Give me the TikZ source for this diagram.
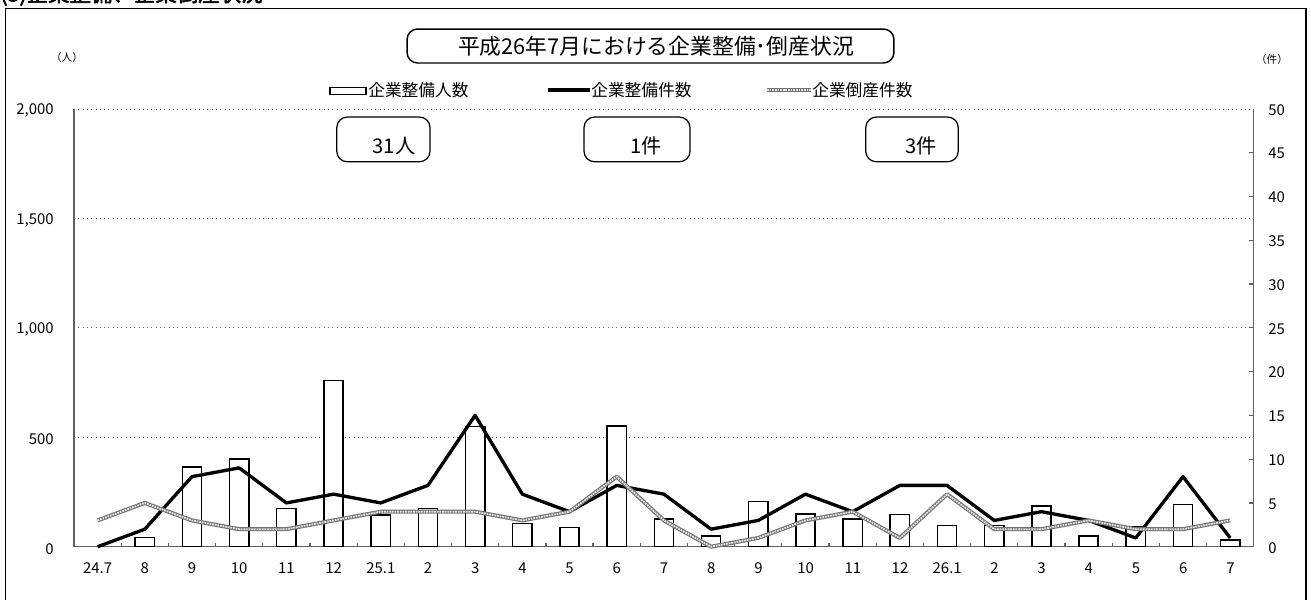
\documentclass[tikz,border=0pt]{standalone}
\usepackage{fontspec}
\setmainfont{Noto Sans CJK JP}
\newfontfamily\headfont[FakeBold=2.5]{Noto Sans CJK JP}

\tikzset{
  outerframe/.style={line width=0.85pt},
  axisline/.style={gray!75!black, line width=0.7pt},
  gridline/.style={gray!80!black, line width=0.45pt, dotted},
  personbar/.style={draw=black, fill=white, line width=0.85pt},
  workline/.style={black, line width=1.9pt, line join=round},
  bankline/.style={gray!90!black, line width=2.3pt, line join=round},
  bankdots/.style={gray!20, line width=1pt, dash pattern=on 1pt off 0.5pt, line join=round},
  ticklab/.style={font=\fontsize{8.5}{10}\selectfont, inner sep=0pt},
  unitlab/.style={font=\fontsize{6}{7}\selectfont, inner sep=0pt},
  legtext/.style={font=\fontsize{9.5}{11}\selectfont, inner sep=0pt, anchor=west},
  valbox/.style={draw, line width=0.7pt, rounded corners=6pt, minimum height=0.894cm},
  valtext/.style={font=\fontsize{11.5}{13}\selectfont, inner sep=0pt},
  titlebox/.style={draw, line width=0.85pt, rounded corners=6pt, minimum width=9.74cm,
    minimum height=0.68cm, inner sep=0pt, font=\fontsize{12.4}{14}\selectfont},
}

\begin{document}
\begin{tikzpicture}[x=0.02cm, y=-0.02cm]
\useasboundingbox (0,0) rectangle (1311,599);

% heading, cut by the page top
\node[font=\headfont\fontsize{12.2}{14}\selectfont, inner sep=0pt, anchor=base west] (head) at (0,1.5) {(3)企業整備、企業倒産状況};
\draw[outerframe] (5.5,610) -- (5.5,8.5) -- (1306,8.5) -- (1306,610);

% title and legend
\node[titlebox] (title) at (650.5,46) {\hspace*{0.22cm}平成26年7月における企業整備･倒産状況};
\node[unitlab] (unitl) at (67,57) {（人）};
\node[unitlab] (unitr) at (1272,59) {（件）};

\draw[personbar] (330,87.3) rectangle (366,94.3);
\node[legtext] (leg1) at (368,90) {企業整備人数};
\coordinate (lw1) at (548,90);
\coordinate (lw2) at (590,90);
\draw[workline, line cap=butt] (lw1) -- (lw2);
\node[legtext] (leg2) at (591,90) {企業整備件数};
\coordinate (lb1) at (767,90);
\coordinate (lb2) at (811,90);
\draw[bankline] (lb1) -- (lb2);
\draw[bankdots] (lb1) -- (lb2);
\node[legtext] (leg3) at (812,90) {企業倒産件数};

% current month values
\node[valbox, minimum width=1.866cm] (box1) at (383.4,139.4) {};
\node[valbox, minimum width=2.12cm] (box2) at (637,139.4) {};
\node[valbox, minimum width=1.85cm] (box3) at (912,139.4) {};
\node[valtext] (val1) at (394,146) {31人};
\node[valtext] (val2) at (646,146) {1件};
\node[valtext] (val3) at (921,146) {3件};

% axes and grid
\begin{scope}[shift={(74,546.7)}, x=0.944cm, y=0.00438cm]
  \foreach \v in {500,1000,1500,2000}
    \draw[gridline] (0,\v) -- (25,\v);
  \draw[axisline] (0,2000) -- (0,0) -- (25,0) -- (25,2000);
  \foreach \k in {1,...,24}
    \draw[axisline] (\k,0) -- (\k,18);
  \foreach \v in {5,10,...,45}
    \draw[axisline] (25,{40*\v}) -- (24.894,{40*\v});
  % persons (bars)
  \foreach \v [count=\i from 0] in {0,42,365,400,175,760,145,175,550,106,88,552,126,50,207,149,126,146,96,96,186,49,91,192,31}
    {\ifnum\v>0 \draw[personbar] (\i+0.296,0) rectangle (\i+0.704,\v); \fi}
\end{scope}

\begin{scope}[shift={(74,546.7)}, x=0.944cm, y=0.1752cm]
  % cases (lines)
  \draw[workline] (0.5,0) \foreach \v [count=\i] in {2,8,9,5,6,5,7,15,6,4,7,6,2,3,6,4,7,7,3,4,3,1,8,1} { -- (\i+0.5,\v) };
  \draw[bankline] (0.5,3) \foreach \v [count=\i] in {5,3,2,2,3,4,4,4,3,4,8,3,0,1,3,4,1,6,2,2,3,2,2,3} { -- (\i+0.5,\v) };
  \draw[bankdots] (0.5,3) \foreach \v [count=\i] in {5,3,2,2,3,4,4,4,3,4,8,3,0,1,3,4,1,6,2,2,3,2,2,3} { -- (\i+0.5,\v) };
\end{scope}

% axis labels
\foreach \v/\t [count=\k] in {0/0,500/500,1000/{1,000},1500/{1,500},2000/{2,000}}
  \node[ticklab, anchor=east] (yl\k) at (54,{548.7-0.219*\v}) {\t};
\foreach \v in {0,5,...,50}
  \node[ticklab, anchor=west] (yr\v) at (1268,{547.7-8.76*\v}) {\v};
\foreach \t [count=\i from 0] in {24.7,8,9,10,11,12,25.1,2,3,4,5,6,7,8,9,10,11,12,26.1,2,3,4,5,6,7}
  \node[ticklab] (cat\i) at ({97.6+47.2*\i},568) {\t};
\end{tikzpicture}
\end{document}
